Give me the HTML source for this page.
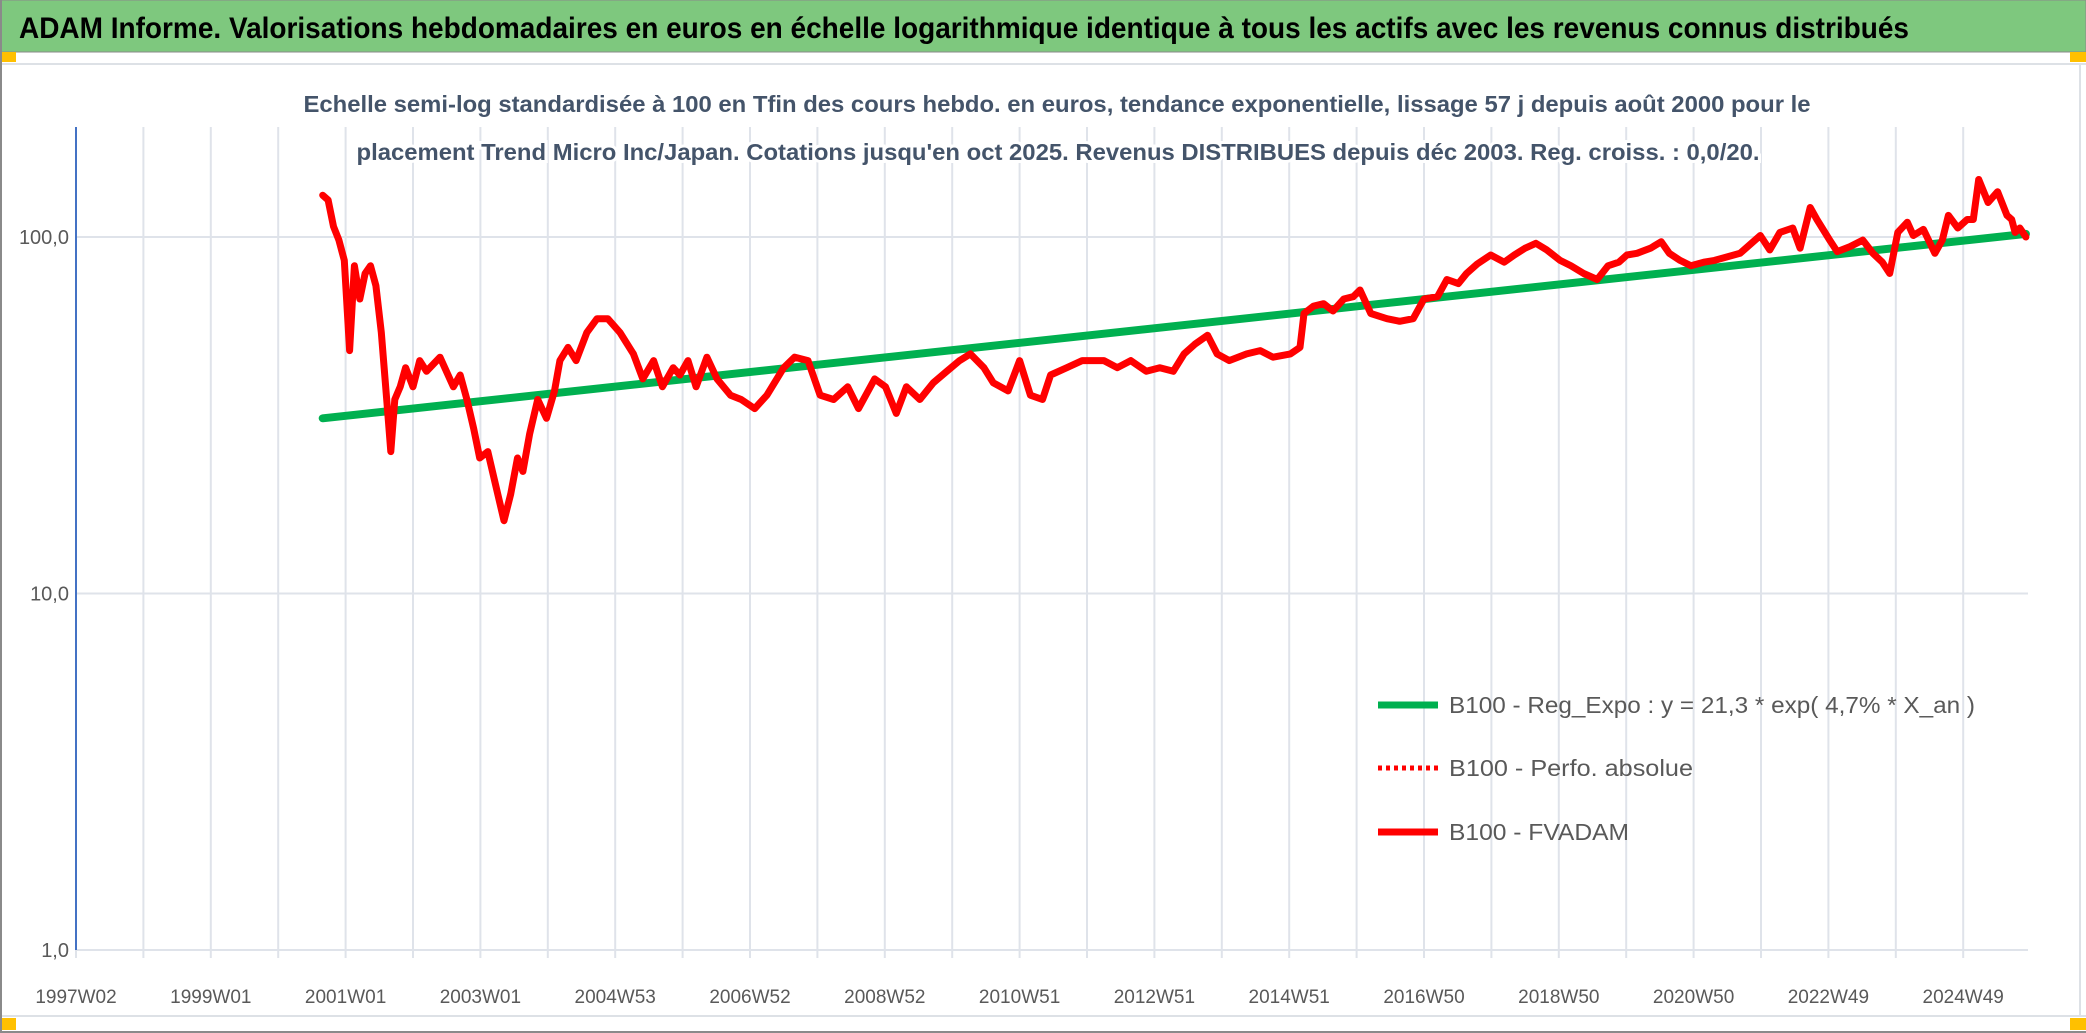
<!DOCTYPE html>
<html><head><meta charset="utf-8"><style>
html,body{margin:0;padding:0;background:#fff;}
svg{display:block;font-family:"Liberation Sans",sans-serif;}
</style></head><body>
<svg id="chart" width="2086" height="1033" viewBox="0 0 2086 1033">
  <rect x="0" y="0" width="2086" height="1033" fill="#fff"/>
  <rect x="0" y="0" width="2086" height="52" fill="#7ec87e" stroke="#8a8a8a" stroke-width="1"/>
  <text x="19" y="38" font-size="30" font-weight="bold" fill="#000" textLength="1890" lengthAdjust="spacingAndGlyphs">ADAM Informe. Valorisations hebdomadaires en euros en échelle logarithmique identique à tous les actifs avec les revenus connus distribués</text>
  <rect x="0" y="52" width="16" height="10" fill="#ffc000"/>
  <rect x="2070" y="52" width="16" height="10" fill="#ffc000"/>
  <rect x="0" y="1018" width="16" height="12" fill="#ffc000"/>
  <rect x="2070" y="1018" width="16" height="12" fill="#ffc000"/>
  <line x1="0" y1="64" x2="2086" y2="64" stroke="#dde1e6" stroke-width="2"/>
  <line x1="0" y1="1016" x2="2086" y2="1016" stroke="#dde1e6" stroke-width="2"/>
  <line x1="2080" y1="64" x2="2080" y2="1016" stroke="#dde1e6" stroke-width="2"/>
  <line x1="1" y1="0" x2="1" y2="1033" stroke="#8a8a8a" stroke-width="2"/>
  <line x1="0" y1="1032" x2="2086" y2="1032" stroke="#8a8a8a" stroke-width="2"/>
  <g id="grid"></g>
  <g id="axes"></g>
  <g>
    <text x="1057" y="112" font-size="23" font-weight="bold" fill="#44546a" stroke="#fff" stroke-width="6" paint-order="stroke" text-anchor="middle" textLength="1507" lengthAdjust="spacingAndGlyphs">Echelle semi-log standardisée à 100 en Tfin des cours hebdo. en euros, tendance exponentielle, lissage 57 j depuis août 2000 pour le</text>
    <text x="1058" y="160" font-size="23" font-weight="bold" fill="#44546a" stroke="#fff" stroke-width="6" paint-order="stroke" text-anchor="middle" textLength="1403" lengthAdjust="spacingAndGlyphs">placement Trend Micro Inc/Japan. Cotations jusqu'en oct 2025. Revenus DISTRIBUES depuis déc 2003. Reg. croiss. : 0,0/20.</text>
  </g>
  <g id="series"></g>
  <g id="legend">
    <line x1="1378" y1="705" x2="1438" y2="705" stroke="#00b050" stroke-width="7"/>
    <text x="1449" y="713" font-size="23" fill="#595959" textLength="526" lengthAdjust="spacingAndGlyphs">B100 - Reg_Expo : y = 21,3 * exp( 4,7% *  X_an )</text>
    <line x1="1378" y1="768" x2="1438" y2="768" stroke="#ff0000" stroke-width="5" stroke-dasharray="4 4"/>
    <text x="1449" y="776" font-size="23" fill="#595959" textLength="244" lengthAdjust="spacingAndGlyphs">B100 - Perfo. absolue</text>
    <line x1="1378" y1="832" x2="1438" y2="832" stroke="#ff0000" stroke-width="7"/>
    <text x="1449" y="840" font-size="23" fill="#595959" textLength="180" lengthAdjust="spacingAndGlyphs">B100 - FVADAM</text>
  </g>
</svg>
<script>
const xTickLabels = ["1997W02","1999W01","2001W01","2003W01","2004W53","2006W52","2008W52","2010W51","2012W51","2014W51","2016W50","2018W50","2020W50","2022W49","2024W49"];
const yTickValues = [1, 10, 100];
const yTickLabels = ["1,0","10,0","100,0"];
const fvYears = [2000.66,2000.74,2000.82,2000.90,2000.98,2001.06,2001.13,2001.21,2001.29,2001.37,2001.45,2001.53,2001.61,2001.67,2001.73,2001.81,2001.89,2002.00,2002.10,2002.20,2002.40,2002.60,2002.70,2002.80,2002.90,2002.99,2003.11,2003.23,2003.35,2003.45,2003.55,2003.63,2003.73,2003.85,2003.98,2004.10,2004.18,2004.30,2004.42,2004.58,2004.73,2004.89,2005.07,2005.27,2005.41,2005.57,2005.70,2005.86,2005.96,2006.08,2006.20,2006.36,2006.51,2006.71,2006.87,2007.07,2007.25,2007.50,2007.66,2007.86,2008.04,2008.24,2008.45,2008.61,2008.85,2009.01,2009.17,2009.32,2009.52,2009.72,2009.92,2010.11,2010.27,2010.47,2010.61,2010.83,2011.00,2011.16,2011.34,2011.46,2011.70,2011.93,2012.25,2012.45,2012.65,2012.88,2013.08,2013.28,2013.44,2013.60,2013.79,2013.93,2014.11,2014.37,2014.57,2014.76,2015.02,2015.16,2015.22,2015.36,2015.51,2015.65,2015.81,2015.95,2016.05,2016.21,2016.45,2016.64,2016.84,2017.00,2017.20,2017.34,2017.51,2017.63,2017.79,2017.99,2018.19,2018.34,2018.50,2018.66,2018.82,2019.02,2019.18,2019.37,2019.57,2019.73,2019.89,2020.01,2020.16,2020.36,2020.52,2020.64,2020.80,2020.96,2021.15,2021.31,2021.69,2021.99,2022.13,2022.28,2022.47,2022.58,2022.73,2022.83,2023.02,2023.13,2023.32,2023.51,2023.66,2023.80,2023.91,2024.03,2024.17,2024.26,2024.41,2024.58,2024.69,2024.78,2024.92,2025.06,2025.15,2025.23,2025.37,2025.51,2025.65,2025.72,2025.77,2025.84,2025.93];
const fvValues = [131,127,107,98,86,48,83,67,79,83,73,54,35,25,35,38,43,38,45,42,46,38,41,35,29,24,25,20,16,19,24,22,28,35,31,37,45,49,45,54,59,59,54,47,40,45,38,43,41,45,38,46,40,36,35,33,36,43,46,45,36,35,38,33,40,38,32,38,35,39,42,45,47,43,39,37,45,36,35,41,43,45,45,43,45,42,43,42,47,50,53,47,45,47,48,46,47,49,61,64,65,62,67,68,71,61,59,58,59,67,68,76,74,79,84,89,85,89,93,96,92,86,83,79,76,83,85,89,90,93,97,90,86,83,85,86,90,101,92,103,106,93,121,112,98,91,94,98,90,85,79,103,110,101,105,90,98,115,106,112,112,145,125,134,115,112,103,106,100];
const trendYears = [2000.66, 2025.93];
const trendValues = [31, 102];

const NS = "http://www.w3.org/2000/svg";
const X0 = 76, PX_PER_YEAR = 67.4, Y_ONE = 950, PX_PER_DECADE = 356.5;
const PLOT_TOP = 127, PLOT_RIGHT = 2028;
function xScale(year){ return X0 + (year - 1997) * PX_PER_YEAR; }
function yScale(v){ return Y_ONE - Math.log10(v) * PX_PER_DECADE; }
function mk(tag, attrs, parent){ const e = document.createElementNS(NS, tag); for (const k in attrs) e.setAttribute(k, attrs[k]); parent.appendChild(e); return e; }

const grid = document.getElementById('grid');
const axes = document.getElementById('axes');
const series = document.getElementById('series');

for (let k = 0; k <= 28; k++) {
  const x = X0 + k * PX_PER_YEAR;
  const g = mk('line', {x1:x, y1:PLOT_TOP, x2:x, y2:Y_ONE + 8, stroke:'#dfe3ea', 'stroke-width':2}, grid);
  
  
}
yTickValues.forEach((v, i) => {
  const y = yScale(v);
  const g = mk('line', {x1:X0, y1:y, x2:PLOT_RIGHT, y2:y, stroke:'#dfe3ea', 'stroke-width':2}, grid);
  
  
  const t = mk('text', {x:69, y:y + 7, 'font-size':20, fill:'#595959', 'text-anchor':'end'}, axes);
  t.textContent = yTickLabels[i];
  
  
});
xTickLabels.forEach((lab, i) => {
  const x = X0 + i * 2 * PX_PER_YEAR;
  const t = mk('text', {x:x, y:1003, 'font-size':19, fill:'#595959', 'text-anchor':'middle'}, axes);
  t.textContent = lab;
  
  
});
const ax = mk('line', {x1:X0, y1:PLOT_TOP, x2:X0, y2:Y_ONE, stroke:'#4472c4', 'stroke-width':2}, axes);



const tp = trendYears.map((yr, i) => xScale(yr).toFixed(1) + ',' + yScale(trendValues[i]).toFixed(1)).join(' ');
const trend = mk('polyline', {points:tp, fill:'none', stroke:'#00b050', 'stroke-width':8, 'stroke-linecap':'round'}, series);



const fp = fvYears.map((yr, i) => xScale(yr).toFixed(1) + ',' + yScale(fvValues[i]).toFixed(1)).join(' ');
const fv = mk('polyline', {points:fp, fill:'none', stroke:'#ff0000', 'stroke-width':7, 'stroke-linejoin':'round', 'stroke-linecap':'round'}, series);


</script>
</body></html>
